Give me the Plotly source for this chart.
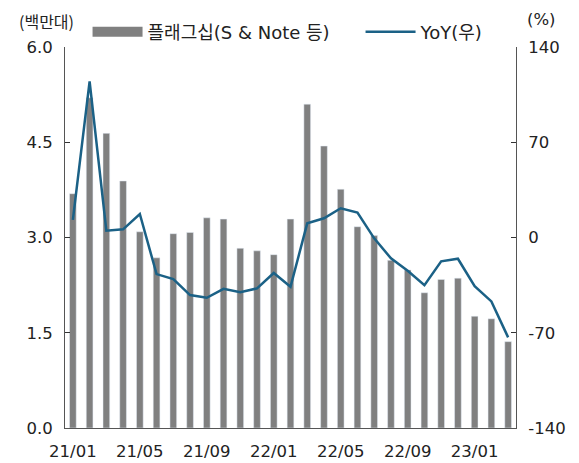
import plotly.graph_objects as go

# monthly, 21/01 .. 23/03
months = ["21/01", "21/02", "21/03", "21/04", "21/05", "21/06", "21/07", "21/08", "21/09",
          "21/10", "21/11", "21/12", "22/01", "22/02", "22/03", "22/04", "22/05", "22/06",
          "22/07", "22/08", "22/09", "22/10", "22/11", "22/12", "23/01", "23/02", "23/03"]
flagship = [3.69, 5.20, 4.64, 3.89, 3.09, 2.68, 3.06, 3.08, 3.31, 3.29, 2.83, 2.79, 2.73, 3.29,
            5.10, 4.44, 3.76, 3.17, 3.03, 2.64, 2.49, 2.13, 2.34, 2.36, 1.76, 1.72, 1.36]
yoy = [12.9, 114.7, 5.0, 6.0, 17.3, -26.9, -30.5, -42.3, -44.3, -37.7, -40.3, -37.4, -26.1, -36.2,
       10.4, 14.1, 21.5, 18.3, -0.6, -15.3, -24.4, -35.0, -17.5, -15.6, -35.7, -47.0, -73.4]
tick_labels = ["21/01", "21/05", "21/09", "22/01", "22/05", "22/09", "23/01"]
yoy_ticks = [-140, -70, 0, 70, 140]
yoy_ticktext = ["-140", "-70", "0", "70", "140"]

GRAY = "#808080"
BLUE = "#1b6186"
FONT = "DejaVu Sans, Noto Sans CJK KR"
TICKFONT = dict(family="DejaVu Sans", size=16.5, color="#222")

x = list(range(len(months)))
label_pos = [months.index(t) for t in tick_labels]
sep_pos = [p - 0.5 for p in label_pos[1:]]

fig = go.Figure()
fig.add_trace(go.Bar(x=x, y=flagship, marker_color=GRAY, width=0.4, showlegend=False))
# legend stand-in for the bars (wide swatch)
fig.add_trace(go.Scatter(x=[None], y=[None], mode="lines", line=dict(color=GRAY, width=10),
                         name="플래그십(S & Note 등)", legendwidth=208))
fig.add_trace(go.Scatter(x=x, y=yoy, mode="lines", line=dict(color=BLUE, width=2.5),
                         name="YoY(우)", yaxis="y2"))

# page body has an 8px margin, so the figure is drawn 8px smaller
fig.update_layout(
    width=571, height=455,
    margin=dict(l=57, r=63, t=39, b=35, autoexpand=False),
    plot_bgcolor="white", paper_bgcolor="white",
    font=dict(family=FONT, size=17, color="#222"),
    xaxis=dict(range=[-0.47, 26.47], tickvals=label_pos, ticktext=tick_labels,
               ticks="", showline=True, linecolor="#555", linewidth=1, tickfont=TICKFONT,
               showgrid=False, zeroline=False, ticklabelstandoff=8),
    xaxis2=dict(range=[-0.47, 26.47], overlaying="x", tickvals=sep_pos, showticklabels=False,
                ticks="inside", ticklen=5, tickcolor="#333", showgrid=False, zeroline=False,
                side="bottom", anchor="y"),
    yaxis=dict(range=[0, 6], dtick=1.5, tickformat=".1f", ticks="inside", ticklen=5,
               tickcolor="#333", showline=True, linecolor="#555", linewidth=1, tickfont=TICKFONT,
               showgrid=False, zeroline=False, ticklabelstandoff=8),
    yaxis2=dict(range=[-140, 140], tickvals=yoy_ticks, ticktext=yoy_ticktext, overlaying="y",
                side="right", ticks="inside", ticklen=5, tickcolor="#333", showline=True,
                linecolor="#555", linewidth=1, tickfont=TICKFONT, showgrid=False,
                zeroline=False, ticklabelstandoff=8),
    legend=dict(orientation="h", x=0.05, xanchor="left", y=1.039, yanchor="middle",
                itemwidth=50, font=dict(size=18), bgcolor="rgba(0,0,0,0)"),
    annotations=[
        dict(text="(백만대)", xref="paper", yref="paper", x=-0.106, y=1.068,
             font=dict(family="Noto Sans CJK KR", size=16),
             xanchor="left", yanchor="middle", showarrow=False),
        dict(text="(%)", font=TICKFONT, xref="paper", yref="paper", x=1.0, y=1.072,
             xanchor="left", yanchor="middle", showarrow=False, xshift=9),
    ],
)

fig.write_html("out.html")
